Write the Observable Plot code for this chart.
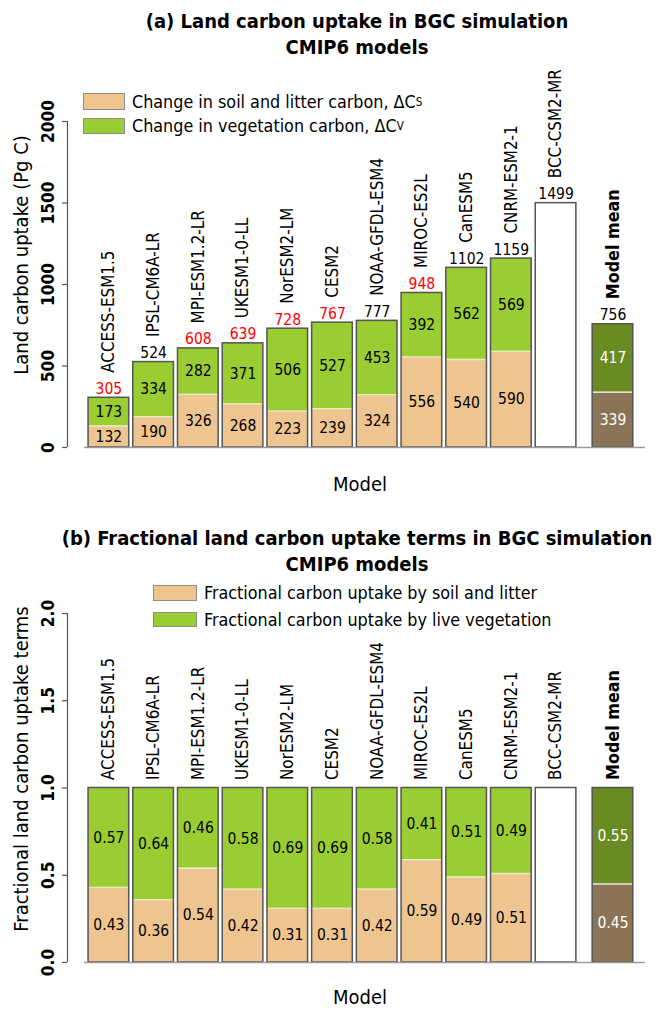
<!DOCTYPE html>
<html>
<head>
<meta charset="utf-8">
<script src="https://cdn.jsdelivr.net/npm/d3@7"></script>
<script src="https://cdn.jsdelivr.net/npm/@observablehq/plot@0.6"></script>
<style>
  html, body { margin: 0; padding: 0; background: #fff; }
  #wrap { position: relative; width: 659px; height: 1009px; font-family: "DejaVu Sans Condensed", "DejaVu Sans", sans-serif; font-stretch: condensed; color: #000; overflow: hidden; }
  #wrap svg text { font-stretch: condensed; }
  .svgbox { position: absolute; left: 0; width: 659px; }
  .title { position: absolute; left: 357px; transform: translateX(-50%); text-align: center; font-weight: bold; font-size: 20px; line-height: 26px; white-space: nowrap; }
  .leg { position: absolute; display: flex; align-items: center; font-size: 17.8px; line-height: 1; white-space: nowrap; }
  .sw { box-sizing: border-box; border: 1px solid #8c8c8c; margin-right: 7px; }
  .ytitle { position: absolute; font-size: 20px; line-height: 1; white-space: nowrap; transform: translate(-50%, -50%) rotate(-90deg); }
  .xtitle { position: absolute; font-size: 20px; line-height: 1; white-space: nowrap; transform: translateX(-50%); }
  sub { font-size: 65%; vertical-align: -4px; line-height: 0; }
</style>
</head>
<body>
<div id="wrap"></div>
<script>
// ---------------- data ----------------
const models = ["ACCESS-ESM1.5", "IPSL-CM6A-LR", "MPI-ESM1.2-LR", "UKESM1-0-LL", "NorESM2-LM", "CESM2",
  "NOAA-GFDL-ESM4", "MIROC-ES2L", "CanESM5", "CNRM-ESM2-1", "BCC-CSM2-MR", "Model mean"];
const soilC  = [132, 190, 326, 268, 223, 239, 324, 556, 540, 590, null, 339];
const vegC   = [173, 334, 282, 371, 506, 527, 453, 392, 562, 569, null, 417];
const totalC = [305, 524, 608, 639, 728, 767, 777, 948, 1102, 1159, 1499, 756];
const totalHighlighted = [true, false, true, true, true, true, false, true, false, false, false, false];
const fracSoil = [0.43, 0.36, 0.54, 0.42, 0.31, 0.31, 0.42, 0.59, 0.49, 0.51, null, 0.45];
const fracVeg  = [0.57, 0.64, 0.46, 0.58, 0.69, 0.69, 0.58, 0.41, 0.51, 0.49, null, 0.55];
const yTicksA = [0, 500, 1000, 1500, 2000];
const yTicksB = [0, 0.5, 1, 1.5, 2];
const yTickLabelsB = ["0.0", "0.5", "1.0", "1.5", "2.0"];

// ---------------- style ----------------
const FONT = '"DejaVu Sans Condensed", "DejaVu Sans", sans-serif';
const SOIL = "#EEC591", VEG = "#9ACD32", MEAN_SOIL = "#8B7355", MEAN_VEG = "#698B22";
const OUTLINE = "#555555", AXIS = "#555555", BASE = "#9a9a9a", SPLIT = "#e4edc0", SPLIT_MEAN = "#e6e2d6";
const FS_NUM = 15.5, FS_NAME = 16.9, FS_MEAN = 17.8, FS_TICK = 17.2;

// bar layout like R barplot: width 1, space 0.1, extra space before the mean bar
const meanIndex = models.length - 1;
let cursor = 0;
const bars = models.map((m, i) => {
  cursor += (i === meanIndex ? 0.4 : 0.1);
  const x1 = cursor; cursor += 1;
  return {i, model: m, x1, x2: cursor, xc: x1 + 0.5, mean: i === meanIndex, split: soilC[i] != null};
});
const xMax = cursor + 0.3;
const xMin = -0.418;

function makePanel(opts) {
  const {rows, yDomain, yRange, height, ticks, tickLabels, nameGap, showTotals} = opts;
  const split = rows.filter(d => d.split);
  const plain = rows.filter(d => !d.split);
  const marks = [
    Plot.rect(split, {filter: d => !d.mean, x1: "x1", x2: "x2", y1: 0, y2: "soil", fill: SOIL}),
    Plot.rect(split, {filter: d => !d.mean, x1: "x1", x2: "x2", y1: "soil", y2: "top", fill: VEG}),
    Plot.rect(split, {filter: d => d.mean, x1: "x1", x2: "x2", y1: 0, y2: "soil", fill: MEAN_SOIL}),
    Plot.rect(split, {filter: d => d.mean, x1: "x1", x2: "x2", y1: "soil", y2: "top", fill: MEAN_VEG}),
    Plot.rect(plain, {x1: "x1", x2: "x2", y1: 0, y2: "top", fill: "white"}),
    Plot.ruleY(split, {filter: d => !d.mean, y: "soil", x1: "x1", x2: "x2", stroke: SPLIT, strokeWidth: 1.3}),
    Plot.ruleY(split, {filter: d => d.mean, y: "soil", x1: "x1", x2: "x2", stroke: SPLIT_MEAN, strokeWidth: 1.3}),
    Plot.rect(rows, {x1: "x1", x2: "x2", y1: 0, y2: "top", fill: "none", stroke: OUTLINE, strokeWidth: 1.5}),
    Plot.ruleY([0], {x1: 0, x2: xMax, stroke: BASE, strokeWidth: 1.3}),
    Plot.ruleX([xMin], {y1: yDomain[0], y2: yDomain[1], stroke: AXIS, strokeWidth: 1.2}),
    Plot.axisY(ticks, {tickSize: 5, fill: "none", stroke: AXIS, strokeWidth: 1.2, label: null}),
    Plot.text(ticks, {y: d => d, text: (d, i) => tickLabels[i], frameAnchor: "left", dx: -19, rotate: -90,
      textAnchor: "middle", lineAnchor: "middle", fontWeight: "bold", fontSize: FS_TICK, fill: "black"}),
    // values inside the segments
    Plot.text(split, {filter: d => !d.mean, x: "xc", y: d => d.soil / 2, text: "soilLabel", fontSize: FS_NUM, fill: "black"}),
    Plot.text(split, {filter: d => !d.mean, x: "xc", y: d => d.soil + d.veg / 2, text: "vegLabel", fontSize: FS_NUM, fill: "black"}),
    Plot.text(split, {filter: d => d.mean, x: "xc", y: d => d.soil / 2, text: "soilLabel", fontSize: FS_NUM, fill: "white"}),
    Plot.text(split, {filter: d => d.mean, x: "xc", y: d => d.soil + d.veg / 2, text: "vegLabel", fontSize: FS_NUM, fill: "white"}),
    // model names
    Plot.text(rows, {filter: d => !d.mean, x: "xc", y: "top", text: "model", rotate: -90, textAnchor: "start",
      lineAnchor: "middle", dy: -nameGap, fontSize: FS_NAME, fill: "black"}),
    Plot.text(rows, {filter: d => d.mean, x: "xc", y: "top", text: "model", rotate: -90, textAnchor: "start",
      lineAnchor: "middle", dy: -nameGap, fontSize: FS_MEAN, fontWeight: "bold", fill: "black"})
  ];
  if (showTotals) {
    marks.push(
      Plot.text(rows, {filter: d => d.red, x: "xc", y: "top", text: "totalLabel", dy: -9, lineAnchor: "middle", fontSize: FS_NUM, fill: "#ff0000"}),
      Plot.text(rows, {filter: d => !d.red, x: "xc", y: "top", text: "totalLabel", dy: -9, lineAnchor: "middle", fontSize: FS_NUM, fill: "black"})
    );
  }
  return Plot.plot({
    width: 659, height,
    marginLeft: 67, marginRight: 14, marginTop: 60, marginBottom: 50,
    x: {type: "linear", domain: [xMin, xMax], range: [67, 645], axis: null},
    y: {type: "linear", domain: yDomain, range: yRange},
    style: {fontFamily: FONT, background: "white", color: "black"},
    marks
  });
}

const rowsA = bars.map(b => ({
  ...b,
  soil: soilC[b.i], veg: vegC[b.i],
  top: b.split ? soilC[b.i] + vegC[b.i] : totalC[b.i],
  soilLabel: String(soilC[b.i]), vegLabel: String(vegC[b.i]),
  totalLabel: String(totalC[b.i]), red: totalHighlighted[b.i]
}));
const rowsB = bars.map(b => ({
  ...b,
  soil: fracSoil[b.i], veg: fracVeg[b.i],
  top: b.split ? fracSoil[b.i] + fracVeg[b.i] : 1,
  soilLabel: b.split ? fracSoil[b.i].toFixed(2) : "", vegLabel: b.split ? fracVeg[b.i].toFixed(2) : "",
  totalLabel: "", red: false
}));

const plotA = makePanel({rows: rowsA, yDomain: [0, 2000], yRange: [447, 121], height: 500,
  ticks: yTicksA, tickLabels: yTicksA.map(String), nameGap: 25, showTotals: true});
const plotB = makePanel({rows: rowsB, yDomain: [0, 2], yRange: [462, 113], height: 509,
  ticks: yTicksB, tickLabels: yTickLabelsB, nameGap: 8, showTotals: false});

const wrap = document.getElementById("wrap");
const boxA = document.createElement("div"); boxA.className = "svgbox"; boxA.style.top = "0px"; boxA.appendChild(plotA);
const boxB = document.createElement("div"); boxB.className = "svgbox"; boxB.style.top = "500px"; boxB.appendChild(plotB);
wrap.appendChild(boxA); wrap.appendChild(boxB);

function addHTML(html) { wrap.insertAdjacentHTML("beforeend", html); }
// panel (a) texts
addHTML('<div class="title" style="top:8px">(a) Land carbon uptake in BGC simulation<br>CMIP6 models</div>');
addHTML('<div class="leg" style="left:83px;top:93px"><div class="sw" style="width:42px;height:17px;background:' + SOIL + '"></div>Change in soil and litter carbon, ΔC<sub>S</sub></div>');
addHTML('<div class="leg" style="left:83px;top:117px"><div class="sw" style="width:42px;height:16px;background:' + VEG + '"></div>Change in vegetation carbon, ΔC<sub>V</sub></div>');
addHTML('<div class="ytitle" style="left:21px;top:255px">Land carbon uptake (Pg C)</div>');
addHTML('<div class="xtitle" style="left:360px;top:474px">Model</div>');
// panel (b) texts
addHTML('<div class="title" style="top:525px">(b) Fractional land carbon uptake terms in BGC simulation<br>CMIP6 models</div>');
addHTML('<div class="leg" style="left:153px;top:584px"><div class="sw" style="width:44px;height:16px;background:' + SOIL + '"></div>Fractional carbon uptake by soil and litter</div>');
addHTML('<div class="leg" style="left:153px;top:611px"><div class="sw" style="width:44px;height:15px;background:' + VEG + '"></div>Fractional carbon uptake by live vegetation</div>');
addHTML('<div class="ytitle" style="left:21px;top:769px">Fractional land carbon uptake terms</div>');
addHTML('<div class="xtitle" style="left:360px;top:987px">Model</div>');
</script>
</body>
</html>
